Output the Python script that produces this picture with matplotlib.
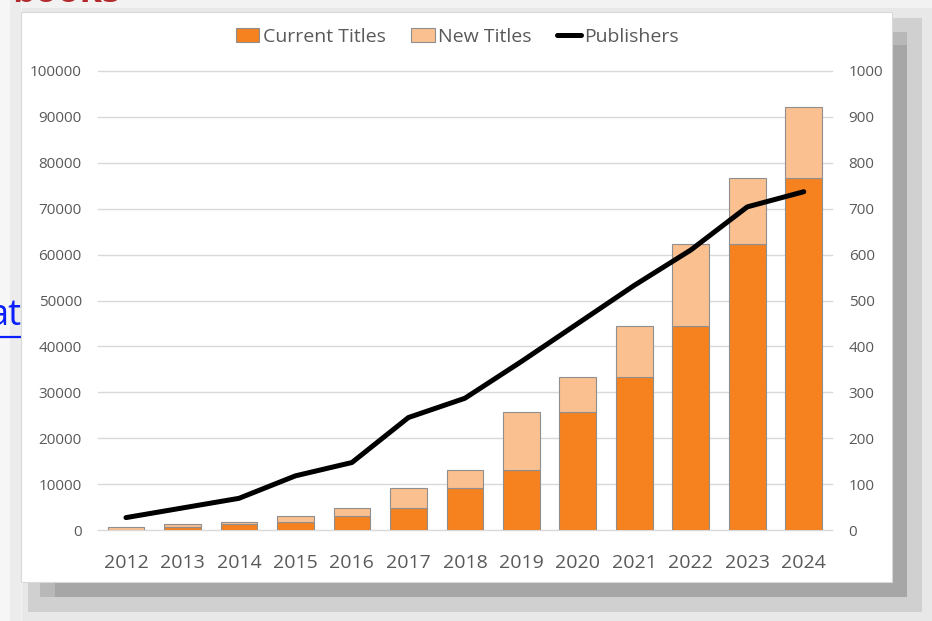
import matplotlib
matplotlib.use("Agg")
import matplotlib.pyplot as plt
from matplotlib.patches import Rectangle

plt.rcParams['font.family'] = ['Open Sans', 'DejaVu Sans']

# values
years = [2012, 2013, 2014, 2015, 2016, 2017, 2018, 2019, 2020, 2021, 2022, 2023, 2024]
current_titles = [0, 650, 1240, 1800, 2980, 4860, 9150, 13000, 25640, 33330, 44510, 62380, 76700]
new_titles = [650, 590, 560, 1180, 1880, 4290, 3850, 12640, 7690, 11180, 17870, 14320, 15450]
publishers = [27, 48, 69, 118, 147, 245, 287, 367, 450, 533, 610, 704, 737]

left_ticks = list(range(0, 100001, 10000))
right_ticks = list(range(0, 1001, 100))

ORANGE = "#f5821f"
LIGHT = "#fac090"
EDGE = "#8f8f8f"
TXT = "#595959"
GRID = "#d9d9d9"

W, H = 932, 621
fig = plt.figure(figsize=(W / 100, H / 100), dpi=100)
fig.patch.set_facecolor("#f2f2f2")

# page behind the chart: blurred shadow, clipped text, white chart box (pixel coords)
bg = fig.add_axes([0, 0, 1, 1], zorder=-1)
bg.set_xlim(0, W)
bg.set_ylim(H, 0)
bg.axis("off")
bg.add_patch(Rectangle((0, 0), 21, H, color="#f6f6f6", lw=0))
bg.add_patch(Rectangle((10, 0), 11, H, color="#ececec", lw=0))
bg.add_patch(Rectangle((22, 8), W - 22, H - 8, color="#e8e8e8", lw=0))
bg.add_patch(Rectangle((28, 18), 922 - 28, 612 - 18, color="#d0d0d0", lw=0))
bg.add_patch(Rectangle((40, 32), 907 - 40, 597 - 32, color="#b8b8b8", lw=0))
bg.add_patch(Rectangle((55, 45), 907 - 55, 597 - 45, color="#a6a6a6", lw=0))
bg.text(12, 2.5, "books", color="#b22a2e", fontsize=26, fontweight="bold",
        ha="left", va="baseline")
bg.text(21, 325, "at", color="#0a1eff", fontsize=26, ha="right", va="baseline")
bg.plot([0, 21], [337, 337], color="#0a1eff", lw=1.6, solid_capstyle="butt")
bg.add_patch(Rectangle((21, 12), 892 - 21, 582 - 12, facecolor="white",
                       edgecolor=GRID, lw=0.8, zorder=5))

ax = fig.add_axes([97.75 / W, 91 / H, (832 - 97.75) / W, 459 / H])
ax.set_facecolor("none")

b1 = ax.bar(years, current_titles, width=0.65, color=ORANGE, edgecolor=EDGE,
            linewidth=0.8, label="Current Titles", zorder=2)
b2 = ax.bar(years, new_titles, width=0.65, bottom=current_titles, color=LIGHT,
            edgecolor=EDGE, linewidth=0.8, label="New Titles", zorder=2)

ax.set_xlim(years[0] - 0.5, years[-1] + 0.5)
ax.set_ylim(0, 100000)
ax.set_yticks(left_ticks)
ax.set_xticks(years)
ax.set_xticklabels([str(y) for y in years])
ax.grid(axis="y", color=GRID, lw=1, zorder=0)
for gl in ax.get_ygridlines():
    gl.set_clip_on(False)
ax.set_axisbelow(True)
ax.tick_params(axis="y", length=0, pad=11.5, labelsize=11, labelcolor=TXT)
ax.tick_params(axis="x", length=0, pad=17, labelsize=14, labelcolor=TXT)
for s in ax.spines.values():
    s.set_visible(False)

ax2 = ax.twinx()
line, = ax2.plot(years, publishers, color="black", lw=3.6, label="Publishers",
                 solid_capstyle="round", zorder=3)
ax2.set_ylim(0, 1000)
ax2.set_yticks(right_ticks)
ax2.tick_params(axis="y", length=0, pad=12, labelsize=11, labelcolor=TXT)
for s in ax2.spines.values():
    s.set_visible(False)

fig.legend([b1, b2, line], ["Current Titles", "New Titles", "Publishers"],
           loc="center", bbox_to_anchor=(457.5 / W, 1 - 36.7 / H), ncol=3,
           frameon=False, fontsize=14, labelcolor=TXT, handlelength=1.2,
           handleheight=0.75, handletextpad=0.2, columnspacing=1.3)

fig.savefig("out.png", dpi=100, facecolor=fig.get_facecolor())
